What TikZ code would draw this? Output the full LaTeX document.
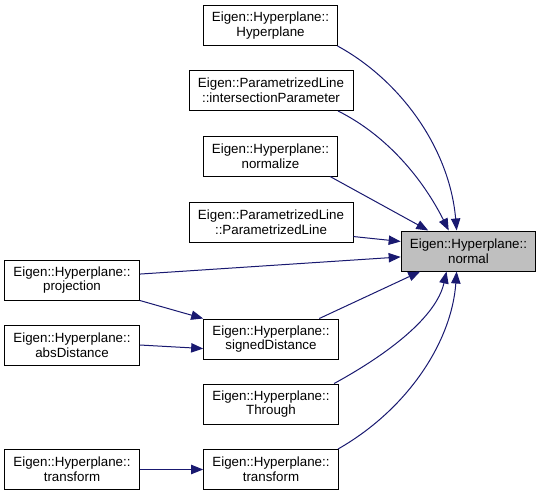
\documentclass[tikz,border=0pt]{standalone}
\usepackage{fontspec}
\setmainfont{Liberation Sans}
\usetikzlibrary{arrows.meta, positioning}

\definecolor{edgeblue}{HTML}{191970}
\definecolor{nodegray}{HTML}{BFBFBF}

\begin{document}
\begin{tikzpicture}[
    x=0.75pt, y=-0.75pt,
    % Define styles
    funcbox/.style={rectangle, draw=black, line width=0.75pt, fill=white, minimum width=101pt, minimum height=30pt, inner sep=1pt, align=center, font=\fontsize{10}{11}\selectfont},
    widebox/.style={funcbox, minimum width=123pt},
    targetbox/.style={funcbox, fill=nodegray},
    arrow/.style={-{Triangle[length=9pt, width=7pt]}, line width=0.75pt, draw=edgeblue}
]
    \useasboundingbox (0,0) rectangle (543,496);

    % 1. The called function
    \node[targetbox] (normal) at (468.5, 251) {Eigen::Hyperplane::\\normal};

    % 2. Direct callers
    \node[funcbox] (hyperplane) at (270.5, 25.5) {Eigen::Hyperplane::\\Hyperplane};
    \node[widebox] (interparam) at (271, 90.5) {Eigen::ParametrizedLine\\::intersectionParameter};
    \node[funcbox] (normalize) at (270.5, 156) {Eigen::Hyperplane::\\normalize};
    \node[widebox] (paramline) at (271, 222) {Eigen::ParametrizedLine\\::ParametrizedLine};
    \node[funcbox] (signeddist) at (271, 339) {Eigen::Hyperplane::\\signedDistance};
    \node[funcbox] (through) at (271, 404) {Eigen::Hyperplane::\\Through};
    \node[funcbox] (transformB) at (271, 469.5) {Eigen::Hyperplane::\\transform};

    % 3. Callers of the callers
    \node[funcbox] (projection) at (72, 280) {Eigen::Hyperplane::\\projection};
    \node[funcbox] (absdist) at (72, 345) {Eigen::Hyperplane::\\absDistance};
    \node[funcbox] (transformA) at (72, 469.5) {Eigen::Hyperplane::\\transform};

    % 4. Connections (Arrows)
    % into the top of normal
    \draw[arrow] (hyperplane.-17) .. controls +(64,35) and +(-7,-81) .. (normal.120);
    \draw[arrow] (interparam.-17) .. controls +(50,25) and +(-25,-50) .. (normal.134);
    \draw[arrow] (normalize.-19) -- (normal.153);

    % into the left side of normal
    \draw[arrow] (paramline.-10) -- (normal.172);
    \draw[arrow] (projection.5) -- (normal.185);

    % into the bottom of normal
    \draw[arrow] (signeddist.23) -- (normal.203);
    \draw[arrow] (through.18) .. controls +(55,-30) and +(-10,45) .. (normal.223);
    \draw[arrow] (transformB.17) .. controls +(70,-40) and +(-5,70) .. (normal.240);

    % second level
    \draw[arrow] (projection.south east) -- (signeddist.north west);
    \draw[arrow] (absdist.east) -- (signeddist.188);
    \draw[arrow] (transformA.east) -- (transformB.west);

\end{tikzpicture}
\end{document}
